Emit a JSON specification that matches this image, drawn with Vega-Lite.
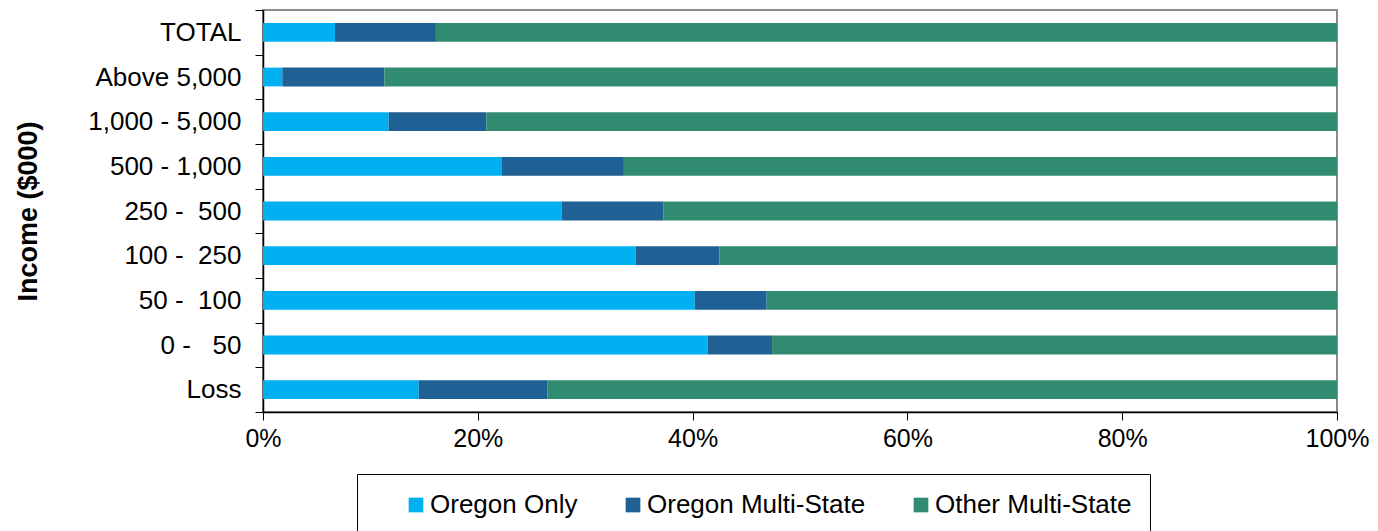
{
  "$schema": "https://vega.github.io/schema/vega-lite/v6.json",
  "autosize": "none",
  "width": 1074,
  "height": 402,
  "padding": {"left": 263, "top": 10, "right": 41, "bottom": 119},
  "config": {
    "font": "Liberation Sans",
    "view": {"stroke": "#8a8a8a", "strokeWidth": 2}
  },
  "data": {
    "values": [
      {"income": "TOTAL", "type": "Oregon Only", "ord": 1, "pct": 6.7},
      {"income": "TOTAL", "type": "Oregon Multi-State", "ord": 2, "pct": 9.4},
      {"income": "TOTAL", "type": "Other Multi-State", "ord": 3, "pct": 83.9},
      {"income": "Above 5,000", "type": "Oregon Only", "ord": 1, "pct": 1.8},
      {"income": "Above 5,000", "type": "Oregon Multi-State", "ord": 2, "pct": 9.5},
      {"income": "Above 5,000", "type": "Other Multi-State", "ord": 3, "pct": 88.7},
      {"income": "1,000 - 5,000", "type": "Oregon Only", "ord": 1, "pct": 11.7},
      {"income": "1,000 - 5,000", "type": "Oregon Multi-State", "ord": 2, "pct": 9.1},
      {"income": "1,000 - 5,000", "type": "Other Multi-State", "ord": 3, "pct": 79.2},
      {"income": "500 - 1,000", "type": "Oregon Only", "ord": 1, "pct": 22.2},
      {"income": "500 - 1,000", "type": "Oregon Multi-State", "ord": 2, "pct": 11.4},
      {"income": "500 - 1,000", "type": "Other Multi-State", "ord": 3, "pct": 66.4},
      {"income": "250 -\u00a0\u00a0500", "type": "Oregon Only", "ord": 1, "pct": 27.8},
      {"income": "250 -\u00a0\u00a0500", "type": "Oregon Multi-State", "ord": 2, "pct": 9.5},
      {"income": "250 -\u00a0\u00a0500", "type": "Other Multi-State", "ord": 3, "pct": 62.7},
      {"income": "100 -\u00a0\u00a0250", "type": "Oregon Only", "ord": 1, "pct": 34.7},
      {"income": "100 -\u00a0\u00a0250", "type": "Oregon Multi-State", "ord": 2, "pct": 7.8},
      {"income": "100 -\u00a0\u00a0250", "type": "Other Multi-State", "ord": 3, "pct": 57.5},
      {"income": "50 -\u00a0\u00a0100", "type": "Oregon Only", "ord": 1, "pct": 40.2},
      {"income": "50 -\u00a0\u00a0100", "type": "Oregon Multi-State", "ord": 2, "pct": 6.7},
      {"income": "50 -\u00a0\u00a0100", "type": "Other Multi-State", "ord": 3, "pct": 53.1},
      {"income": "0 -\u00a0\u00a0\u00a050", "type": "Oregon Only", "ord": 1, "pct": 41.4},
      {"income": "0 -\u00a0\u00a0\u00a050", "type": "Oregon Multi-State", "ord": 2, "pct": 6.0},
      {"income": "0 -\u00a0\u00a0\u00a050", "type": "Other Multi-State", "ord": 3, "pct": 52.6},
      {"income": "Loss", "type": "Oregon Only", "ord": 1, "pct": 14.5},
      {"income": "Loss", "type": "Oregon Multi-State", "ord": 2, "pct": 12.0},
      {"income": "Loss", "type": "Other Multi-State", "ord": 3, "pct": 73.5}
    ]
  },
  "mark": {"type": "bar", "height": {"band": 0.42}},
  "encoding": {
    "y": {
      "field": "income",
      "type": "nominal",
      "sort": ["TOTAL", "Above 5,000", "1,000 - 5,000", "500 - 1,000", "250 -\u00a0\u00a0500", "100 -\u00a0\u00a0250", "50 -\u00a0\u00a0100", "0 -\u00a0\u00a0\u00a050", "Loss"],
      "scale": {"paddingInner": 0, "paddingOuter": 0},
      "axis": {
        "title": "Income ($000)",
        "titleFontSize": 27,
        "titleFontWeight": "bold",
        "titleColor": "#000",
        "titlePadding": 45,
        "labelFontSize": 26,
        "labelColor": "#000",
        "labelPadding": 14,
        "labelLimit": 400,
        "tickBand": "extent",
        "tickSize": 8,
        "tickColor": "#000",
        "domainColor": "#000",
        "domainWidth": 1.5,
        "grid": false
      }
    },
    "x": {
      "field": "pct",
      "type": "quantitative",
      "stack": "normalize",
      "scale": {"domain": [0, 1]},
      "axis": {
        "title": null,
        "format": ".0%",
        "values": [0, 0.2, 0.4, 0.6, 0.8, 1],
        "labelFontSize": 25,
        "labelColor": "#000",
        "labelPadding": 6,
        "labelFlush": false,
        "labelOverlap": false,
        "tickSize": 8,
        "tickColor": "#000",
        "domainColor": "#000",
        "domainWidth": 1.5,
        "grid": false
      }
    },
    "color": {
      "field": "type",
      "type": "nominal",
      "sort": ["Oregon Only", "Oregon Multi-State", "Other Multi-State"],
      "scale": {
        "domain": ["Oregon Only", "Oregon Multi-State", "Other Multi-State"],
        "range": ["#00B0F0", "#1F6195", "#318B70"]
      },
      "legend": {
        "title": null,
        "orient": "none",
        "direction": "horizontal",
        "legendX": 94,
        "legendY": 464,
        "strokeColor": "#000",
        "padding": 18,
        "symbolType": "square",
        "symbolSize": 216,
        "symbolStrokeWidth": 0,
        "symbolOffset": 28,
        "labelFontSize": 26,
        "labelLimit": 400,
        "labelColor": "#000",
        "labelOffset": 1,
        "columnPadding": 14
      }
    },
    "order": {"field": "ord", "type": "quantitative"}
  }
}
